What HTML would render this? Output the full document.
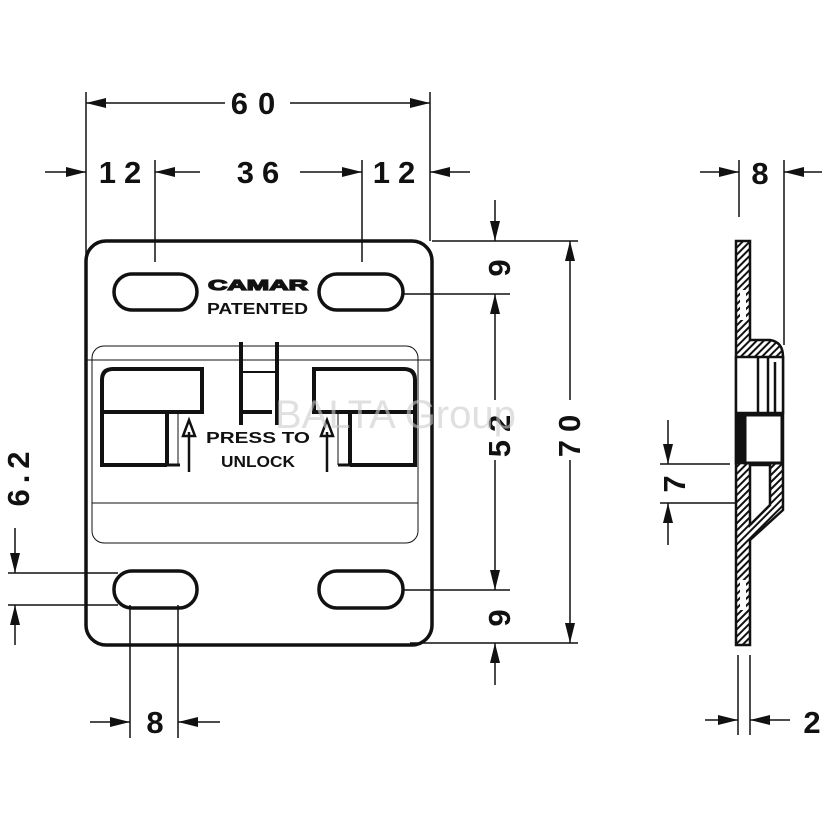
<!DOCTYPE html>
<html><head><meta charset="utf-8"><style>
body{margin:0;background:#fff}
svg{display:block}
.d{font-family:"Liberation Sans",sans-serif;font-weight:bold;font-size:31px;fill:#111}
.s{font-family:"Liberation Sans",sans-serif;font-weight:bold;fill:#111}
</style></head><body>
<svg width="830" height="830" viewBox="0 0 830 830" xmlns="http://www.w3.org/2000/svg">
<defs>
<marker id="a" viewBox="0 0 20 10" refX="20" refY="5" markerWidth="20" markerHeight="10" markerUnits="userSpaceOnUse" orient="auto"><path d="M0,0L20,5L0,10Z" fill="#111"/></marker>
<pattern id="h" width="5" height="5" patternUnits="userSpaceOnUse" patternTransform="rotate(45)"><rect width="5" height="5" fill="#fff"/><rect width="2" height="5" fill="#111"/></pattern>
</defs>
<g stroke="#111" fill="none">
<rect x="86" y="241" width="346" height="404" rx="20" stroke-width="3.5"/>
<g stroke-width="3.5">
<rect x="114" y="274" width="83" height="36" rx="18"/>
<rect x="319" y="274" width="84" height="36" rx="18"/>
<rect x="114" y="571" width="83" height="37" rx="18"/>
<rect x="319" y="571" width="84" height="37" rx="18"/>
</g>
<rect x="92" y="346" width="326" height="197" rx="12" stroke-width="1"/>
<line x1="86" y1="360" x2="432" y2="360" stroke-width="1"/>
<line x1="92" y1="503" x2="418" y2="503" stroke-width="1"/>
<g stroke-width="4">
<path d="M167,465 L102,465 L102,380 Q102,369 113,369 L202,369 L202,412 L102,412"/>
<line x1="167" y1="412" x2="167" y2="465"/>
<line x1="165" y1="465" x2="180" y2="465" stroke-width="3"/>
<path d="M350,465 L415,465 L415,380 Q415,369 404,369 L314,369 L314,412 L415,412"/>
<line x1="350" y1="412" x2="350" y2="465"/>
<line x1="338" y1="465" x2="352" y2="465" stroke-width="3"/>
<line x1="241" y1="342" x2="241" y2="425"/>
<line x1="277" y1="342" x2="277" y2="425"/>
<line x1="241" y1="412" x2="272" y2="412"/>
</g>
<line x1="241" y1="372" x2="277" y2="372" stroke-width="2"/>
<line x1="178" y1="412" x2="178" y2="465" stroke-width="1"/>
<line x1="338" y1="412" x2="338" y2="465" stroke-width="1"/>
<g stroke-width="2.5">
<line x1="189" y1="472" x2="189" y2="432"/><path d="M183,436 L189,420 L195,436 Z"/>
<line x1="327" y1="472" x2="327" y2="432"/><path d="M321,436 L327,420 L333,436 Z"/>
</g>
<g stroke-width="1.5">
<line x1="86" y1="92" x2="86" y2="255"/>
<line x1="430" y1="92" x2="430" y2="241"/>
<line x1="155" y1="160" x2="155" y2="262"/>
<line x1="362" y1="160" x2="362" y2="262"/>
<line x1="130" y1="103" x2="86" y2="103" marker-end="url(#a)"/>
<line x1="225" y1="103" x2="130" y2="103"/>
<line x1="290" y1="103" x2="430" y2="103" marker-end="url(#a)"/>
<line x1="45" y1="172" x2="86" y2="172" marker-end="url(#a)"/>
<line x1="200" y1="172" x2="155" y2="172" marker-end="url(#a)"/>
<line x1="300" y1="172" x2="362" y2="172" marker-end="url(#a)"/>
<line x1="470" y1="172" x2="430" y2="172" marker-end="url(#a)"/>
<line x1="432" y1="241" x2="578" y2="241"/>
<line x1="403" y1="294" x2="510" y2="294"/>
<line x1="403" y1="590" x2="510" y2="590"/>
<line x1="410" y1="643" x2="578" y2="643"/>
<line x1="495" y1="200" x2="495" y2="241" marker-end="url(#a)"/>
<line x1="495" y1="400" x2="495" y2="294" marker-end="url(#a)"/>
<line x1="495" y1="460" x2="495" y2="590" marker-end="url(#a)"/>
<line x1="495" y1="685" x2="495" y2="643" marker-end="url(#a)"/>
<line x1="570" y1="400" x2="570" y2="241" marker-end="url(#a)"/>
<line x1="570" y1="460" x2="570" y2="643" marker-end="url(#a)"/>
<line x1="8" y1="573" x2="118" y2="573"/>
<line x1="8" y1="605" x2="118" y2="605"/>
<line x1="15" y1="528" x2="15" y2="573" marker-end="url(#a)"/>
<line x1="15" y1="645" x2="15" y2="605" marker-end="url(#a)"/>
<line x1="130" y1="605" x2="130" y2="738"/>
<line x1="178" y1="605" x2="178" y2="738"/>
<line x1="90" y1="722" x2="130" y2="722" marker-end="url(#a)"/>
<line x1="220" y1="722" x2="178" y2="722" marker-end="url(#a)"/>
<line x1="739" y1="160" x2="739" y2="217"/>
<line x1="784" y1="160" x2="784" y2="345"/>
<line x1="700" y1="172" x2="739" y2="172" marker-end="url(#a)"/>
<line x1="822" y1="172" x2="784" y2="172" marker-end="url(#a)"/>
<line x1="738" y1="655" x2="738" y2="735"/>
<line x1="750" y1="655" x2="750" y2="735"/>
<line x1="705" y1="720" x2="738" y2="720" marker-end="url(#a)"/>
<line x1="790" y1="720" x2="750" y2="720" marker-end="url(#a)"/>
<line x1="660" y1="464" x2="730" y2="464"/>
<line x1="660" y1="503" x2="758" y2="503"/>
<line x1="668" y1="420" x2="668" y2="464" marker-end="url(#a)"/>
<line x1="668" y1="545" x2="668" y2="503" marker-end="url(#a)"/>
</g>
<g stroke="#111" stroke-width="2.5">
<path d="M736,241 L750,241 L750,340 L770,340 Q783,342 783,357 L783,510 L750,540 L750,645 L736,645 Z" fill="url(#h)"/>
<rect x="736" y="357" width="47" height="56" fill="#fff"/>
<rect x="745" y="415" width="37" height="48" fill="#fff" stroke-width="3"/>
<rect x="736" y="415" width="9" height="48" fill="#111"/>
<path d="M750,465 L770,465 L770,505 L750,525 Z" fill="#fff"/>
<rect x="740" y="290" width="6" height="30" fill="#fff" stroke="none"/>
<rect x="740" y="580" width="6" height="30" fill="#fff" stroke="none"/>
<line x1="758" y1="357" x2="758" y2="413"/>
<line x1="768" y1="357" x2="768" y2="413"/>
<line x1="775" y1="362" x2="775" y2="413"/>
</g>
</g>
<text x="258" y="114" class="d" text-anchor="middle" letter-spacing="10">60</text>
<text x="124" y="183" class="d" text-anchor="middle" letter-spacing="8">12</text>
<text x="262" y="183" class="d" text-anchor="middle" letter-spacing="8">36</text>
<text x="398" y="183" class="d" text-anchor="middle" letter-spacing="8">12</text>
<text x="760" y="184" class="d" text-anchor="middle">8</text>
<text x="812" y="733" class="d" text-anchor="middle">2</text>
<text x="155" y="733" class="d" text-anchor="middle">8</text>
<text class="d" text-anchor="middle" transform="translate(510,268) rotate(-90)">9</text>
<text class="d" text-anchor="middle" letter-spacing="8" transform="translate(510,432) rotate(-90)">52</text>
<text class="d" text-anchor="middle" transform="translate(510,618) rotate(-90)">9</text>
<text class="d" text-anchor="middle" letter-spacing="8" transform="translate(580,432) rotate(-90)">70</text>
<text class="d" text-anchor="middle" letter-spacing="6" transform="translate(29,476) rotate(-90)">6.2</text>
<text class="d" text-anchor="middle" transform="translate(685,484) rotate(-90)">7</text>
<text x="208" y="290" class="s" font-size="15" textLength="100" lengthAdjust="spacingAndGlyphs" fill="#fff" stroke="#111" stroke-width="1.2">CAMAR</text>
<text x="207" y="314" class="s" font-size="16" textLength="101" lengthAdjust="spacingAndGlyphs">PATENTED</text>
<text x="206" y="443" class="s" font-size="16" textLength="104" lengthAdjust="spacingAndGlyphs">PRESS TO</text>
<text x="221" y="467" class="s" font-size="16" textLength="74" lengthAdjust="spacingAndGlyphs">UNLOCK</text>
<text x="275" y="428" font-family="Liberation Sans,sans-serif" font-size="40" fill="#ccc" fill-opacity="0.6">BALTA Group</text>
</svg>
</body></html>
